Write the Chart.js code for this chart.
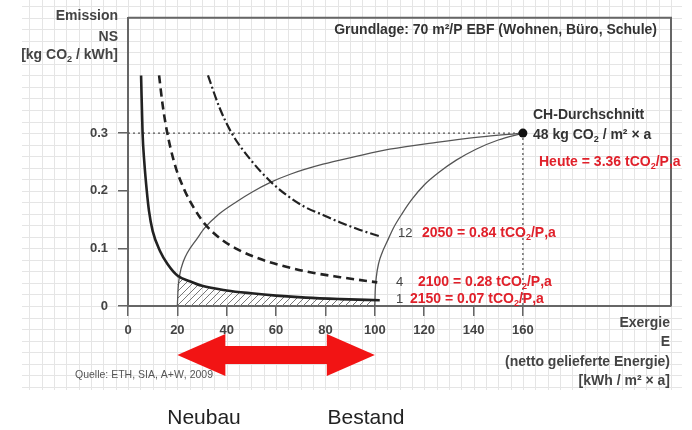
<!DOCTYPE html>
<html>
<head>
<meta charset="utf-8">
<script src="https://cdn.jsdelivr.net/npm/chart.js@4.4.1/dist/chart.umd.min.js"></script>
<style>
html, body { margin: 0; padding: 0; background: #fff; }
#chart { display: block; }
</style>
</head>
<body>
<canvas id="chart" width="692" height="430"></canvas>
<script>
// Linien konstanter Emission pro Person (1, 4, 12)
var curve1E  = [5.3, 5.9, 6.6, 7.6, 8.5, 10, 13, 16, 20, 25, 30, 40, 50, 60, 72, 86, 102];
var curve1NS = [0.40, 0.30, 0.25, 0.20, 0.165, 0.13, 0.095, 0.073, 0.053, 0.043, 0.035, 0.027, 0.022, 0.018, 0.0145, 0.012, 0.010];

var curve4E  = [12.6, 14, 15.7, 19, 23, 27, 31, 38, 45, 52, 59, 72, 86, 101];
var curve4NS = [0.40, 0.35, 0.305, 0.245, 0.20, 0.168, 0.143, 0.115, 0.097, 0.084, 0.074, 0.060, 0.050, 0.041];

var curve12E  = [32.4, 37, 42, 50, 57.5, 65, 72, 79, 86, 94, 102];
var curve12NS = [0.40, 0.345, 0.30, 0.252, 0.217, 0.19, 0.171, 0.158, 0.145, 0.132, 0.121];

// Pfade von Neubau (20) bzw. Bestand (100) zum CH-Durchschnitt
var pathNewE  = [20, 20.3, 21, 22.5, 24, 28, 31, 37, 44, 50, 57.5, 66, 79, 92, 106, 125, 142, 160];
var pathNewNS = [0, 0.03, 0.055, 0.078, 0.092, 0.117, 0.135, 0.16, 0.181, 0.197, 0.214, 0.229, 0.246, 0.259, 0.272, 0.284, 0.293, 0.3];

var pathOldE  = [100, 100.15, 100.6, 101.6, 103, 104.8, 107.5, 111, 115, 120, 126, 133, 141, 150, 160];
var pathOldNS = [0, 0.025, 0.05, 0.075, 0.093, 0.11, 0.135, 0.16, 0.185, 0.21, 0.232, 0.253, 0.272, 0.288, 0.3];

// Schraffur unter Kurve 1 zwischen 20 und 100
var hatchE  = [20, 25, 30, 40, 50, 60, 72, 86, 100];
var hatchNS = [0.053, 0.043, 0.035, 0.027, 0.022, 0.018, 0.0145, 0.012, 0.010];

var avgE = 160, avgNS = 0.3;
var arrowE = [20, 100];

var xTicks = [0, 20, 40, 60, 80, 100, 120, 140, 160];
var yTicks = [0, 0.1, 0.2, 0.3];

function pts(xs, ys) {
  return xs.map(function (x, i) { return { x: x, y: ys[i] }; });
}

function hatchPattern() {
  var p = document.createElement('canvas');
  p.width = 7; p.height = 7;
  var g = p.getContext('2d');
  g.strokeStyle = '#777';
  g.lineWidth = 1;
  g.beginPath();
  g.moveTo(-1, 8); g.lineTo(8, -1);
  g.moveTo(-1, 1); g.lineTo(1, -1);
  g.moveTo(6, 8); g.lineTo(8, 6);
  g.stroke();
  return g.createPattern(p, 'repeat');
}

var FONT = '"Liberation Sans", Arial, sans-serif';
var RED = '#e0202a';

// Text mit Tiefstellung: "_2" -> tiefgestellte 2
function rich(c, x, y, str, size, color, align, weight) {
  weight = weight || 'bold';
  var parts = [];
  for (var i = 0; i < str.length; i++) {
    if (str[i] === '_') { parts.push({ t: str[i + 1], sub: true }); i++; }
    else parts.push({ t: str[i], sub: false });
  }
  var w = 0;
  parts.forEach(function (p) {
    c.font = weight + ' ' + (p.sub ? size * 0.65 : size) + 'px ' + FONT;
    p.w = c.measureText(p.t).width;
    w += p.w;
  });
  var cx = align === 'right' ? x - w : (align === 'center' ? x - w / 2 : x);
  c.fillStyle = color;
  c.textBaseline = 'middle';
  c.textAlign = 'left';
  parts.forEach(function (p) {
    c.font = weight + ' ' + (p.sub ? size * 0.65 : size) + 'px ' + FONT;
    c.fillText(p.t, cx, p.sub ? y + size * 0.35 : y);
    cx += p.w;
  });
}

var paperPlugin = {
  id: 'paper',
  beforeDraw: function (chart) {
    var c = chart.ctx, xs = chart.scales.x, ys = chart.scales.y;
    c.save();
    c.fillStyle = '#fff';
    c.fillRect(0, 0, chart.width, chart.height);
    c.strokeStyle = '#e5e5e5';
    c.lineWidth = 1;
    c.beginPath();
    for (var i = -8; i <= 45; i++) {
      var px = Math.round(xs.getPixelForValue(i * 5)) + 0.5;
      if (px < 22 || px > 682) continue;
      c.moveTo(px, 0); c.lineTo(px, 390);
    }
    for (var j = -7; j <= 26; j++) {
      var py = Math.round(ys.getPixelForValue(j * 0.02)) + 0.5;
      if (py < 0 || py > 390) continue;
      c.moveTo(22, py); c.lineTo(682, py);
    }
    c.stroke();
    c.restore();
  },
  afterDraw: function (chart) {
    var c = chart.ctx, a = chart.chartArea, xs = chart.scales.x;
    c.save();
    // Rahmen oben und rechts
    c.strokeStyle = '#666';
    c.lineWidth = 2;
    c.beginPath();
    c.moveTo(a.left, a.top); c.lineTo(a.right, a.top); c.lineTo(a.right, a.bottom);
    c.stroke();

    // Achsentitel
    rich(c, 118, 16, 'Emission', 14, '#444', 'right');
    rich(c, 118, 37, 'NS', 14, '#444', 'right');
    rich(c, 118, 55, '[kg CO_2 / kWh]', 14, '#444', 'right');
    rich(c, 670, 323, 'Exergie', 14, '#444', 'right');
    rich(c, 670, 342, 'E', 14, '#444', 'right');
    rich(c, 670, 362, '(netto gelieferte Energie)', 14, '#444', 'right');
    rich(c, 670, 381, '[kWh / m\u00b2 \u00d7 a]', 14, '#444', 'right');

    rich(c, 657, 30, 'Grundlage: 70 m\u00b2/P EBF (Wohnen, B\u00fcro, Schule)', 14, '#333', 'right');
    rich(c, 533, 115, 'CH-Durchschnitt', 14, '#333', 'left');
    rich(c, 533, 135, '48 kg CO_2 / m\u00b2 \u00d7 a', 14, '#333', 'left');
    rich(c, 539, 162, 'Heute = 3.36 tCO_2/P,a', 14, RED, 'left');

    rich(c, 398, 233, '12', 13, '#444', 'left', 'normal');
    rich(c, 422, 233, '2050 = 0.84 tCO_2/P,a', 14, RED, 'left');
    rich(c, 396, 282, '4', 13, '#444', 'left', 'normal');
    rich(c, 418, 282, '2100 = 0.28 tCO_2/P,a', 14, RED, 'left');
    rich(c, 396, 299, '1', 13, '#444', 'left', 'normal');
    rich(c, 410, 299, '2150 = 0.07 tCO_2/P,a', 14, RED, 'left');

    rich(c, 75, 375, 'Quelle: ETH, SIA, A+W, 2009', 10.5, '#555', 'left', 'normal');

    // Doppelpfeil Neubau <-> Bestand
    var x0 = xs.getPixelForValue(arrowE[0]), x1 = xs.getPixelForValue(arrowE[1]);
    var cy = 355, hl = 48, hh = 21, sh = 9;
    c.fillStyle = '#f21414';
    c.beginPath();
    c.moveTo(x0, cy);
    c.lineTo(x0 + hl, cy - hh);
    c.lineTo(x0 + hl, cy - sh);
    c.lineTo(x1 - hl, cy - sh);
    c.lineTo(x1 - hl, cy - hh);
    c.lineTo(x1, cy);
    c.lineTo(x1 - hl, cy + hh);
    c.lineTo(x1 - hl, cy + sh);
    c.lineTo(x0 + hl, cy + sh);
    c.lineTo(x0 + hl, cy + hh);
    c.closePath();
    c.fill();

    rich(c, 204, 418, 'Neubau', 21, '#222', 'center', 'normal');
    rich(c, 366, 418, 'Bestand', 21, '#222', 'center', 'normal');
    c.restore();
  }
};

var thick = '#222', thin = '#555';

new Chart(document.getElementById('chart'), {
  type: 'line',
  data: {
    datasets: [
      { data: [{ x: avgE, y: avgNS }], showLine: false, pointRadius: 4.5, pointBackgroundColor: '#111', pointBorderWidth: 0 },
      { data: pts(curve1E, curve1NS), borderColor: thick, borderWidth: 2.6, pointRadius: 0, cubicInterpolationMode: 'monotone', fill: false },
      { data: pts(curve4E, curve4NS), borderColor: thick, borderWidth: 2.6, borderDash: [8, 5], pointRadius: 0, cubicInterpolationMode: 'monotone', fill: false },
      { data: pts(curve12E, curve12NS), borderColor: thick, borderWidth: 2.2, borderDash: [9, 3, 2, 3], pointRadius: 0, cubicInterpolationMode: 'monotone', fill: false },
      { data: pts(pathNewE, pathNewNS), borderColor: thin, borderWidth: 1.3, pointRadius: 0, cubicInterpolationMode: 'monotone', fill: false },
      { data: pts(pathOldE, pathOldNS), borderColor: thin, borderWidth: 1.3, pointRadius: 0, cubicInterpolationMode: 'monotone', fill: false },
      { data: [{ x: 0, y: avgNS }, { x: avgE, y: avgNS }], borderColor: '#555', borderWidth: 1.3, borderDash: [2, 3], pointRadius: 0, fill: false },
      { data: [{ x: avgE, y: avgNS }, { x: avgE, y: 0 }], borderColor: '#555', borderWidth: 1.3, borderDash: [2, 3], pointRadius: 0, fill: false },
      { data: pts(hatchE, hatchNS), borderWidth: 0, pointRadius: 0, cubicInterpolationMode: 'monotone', fill: 'origin', backgroundColor: hatchPattern() }
    ]
  },
  options: {
    responsive: false,
    animation: false,
    devicePixelRatio: 1,
    layout: { padding: { top: 12, right: 21, left: 0, bottom: 0 } },
    plugins: { legend: { display: false }, tooltip: { enabled: false } },
    scales: {
      x: {
        type: 'linear', min: 0, max: 220,
        afterBuildTicks: function (ax) { ax.ticks = xTicks.map(function (v) { return { value: v }; }); },
        afterFit: function (ax) { ax.height = 124; },
        grid: { drawOnChartArea: false, drawTicks: true, tickLength: 10, color: '#666', lineWidth: 1.5 },
        border: { display: true, color: '#666', width: 2 },
        ticks: { font: { family: FONT, weight: 'bold', size: 13 }, color: '#444', padding: 7, maxRotation: 0, autoSkip: false }
      },
      y: {
        type: 'linear', min: 0, max: 0.5,
        afterBuildTicks: function (ax) { ax.ticks = yTicks.map(function (v) { return { value: v }; }); },
        afterFit: function (ax) { ax.width = 128; },
        grid: { drawOnChartArea: false, drawTicks: true, tickLength: 10, color: '#666', lineWidth: 1.5 },
        border: { display: true, color: '#666', width: 2 },
        ticks: { font: { family: FONT, weight: 'bold', size: 13 }, color: '#444', padding: 10, autoSkip: false }
      }
    }
  },
  plugins: [paperPlugin]
});
</script>
</body>
</html>
